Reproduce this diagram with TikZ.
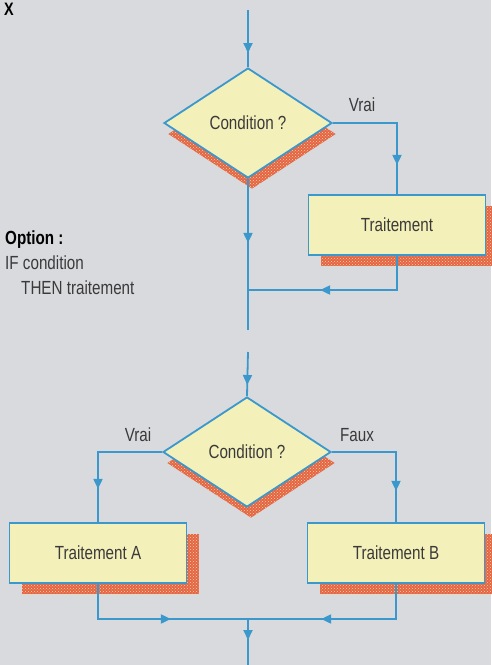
\documentclass[tikz,border=0pt]{standalone}
\usepackage{fontspec}
\setmainfont{Liberation Sans}[FakeStretch=0.8]
\usetikzlibrary{shapes.geometric,arrows.meta,decorations.markings,patterns,shadows}
\definecolor{paper}{HTML}{D9DADE}
\definecolor{flowblue}{HTML}{3A98CC}
\definecolor{boxyellow}{HTML}{F4F0B9}
\definecolor{shadowred}{HTML}{E5634A}
\definecolor{shadowdot}{HTML}{F4DC86}
\definecolor{ink}{HTML}{3A3A3A}
\begin{document}
\begin{tikzpicture}[x=1pt,y=-1pt,>=Triangle,line width=1.8pt,
    font=\fontsize{19}{21}\selectfont,text=ink,
    hatched/.style={general shadow={shadow xshift=#1,shadow yshift=-11pt,fill=shadowred},
        general shadow={shadow xshift=#1,shadow yshift=-11pt,pattern=crosshatch dots,pattern color=shadowdot}},
    test/.style={shape=diamond,draw=flowblue,fill=boxyellow,inner sep=0pt,aspect=1.55,
        minimum width=168pt,minimum height=110pt,hatched=4pt},
    task/.style={shape=rectangle,draw=flowblue,fill=boxyellow,minimum width=177pt,
        minimum height=60pt,hatched=12pt},
    flow/.style={draw=flowblue,postaction={decorate},decoration={markings,
        mark=at position #1 with {\arrow{Triangle[length=10pt,width=9pt]}}}}]
\fill[paper] (0,0) rectangle (491,665);
\useasboundingbox (0,0) rectangle (491,665);
\node[anchor=base west,font=\bfseries\fontsize{18}{20}\selectfont,text=black] (mark) at (0,15) {X};
% IF ... THEN
\coordinate (in1) at (248,10);
\node[test] (cond1) at (248,123) {Condition ?};
\node[task] (trait) at (397,225) {Traitement};
\coordinate (join1) at (248,290);
\coordinate (out1) at (248,330);
\node[anchor=south] (vrai1) at (362,116) {Vrai};
\draw[flow=43pt] (in1) -- (cond1.north);
\draw[flow=106pt] (cond1.east) -| (trait.north);
\draw[flow=64pt] (cond1.south) -- (out1);
\draw[flow=111pt] (trait.south) |- (join1);
\node[anchor=base west,font=\bfseries\fontsize{19}{21}\selectfont,text=black] (opt) at (1,244) {Option :};
\node[anchor=base west] (ifc) at (1,269) {IF condition};
\node[anchor=base west] (thenc) at (17,294) {THEN traitement};
% IF ... THEN ... ELSE
\coordinate (in2) at (248,352);
\node[test] (cond2) at (247,452) {Condition ?};
\node[task] (traitA) at (98,553) {Traitement A};
\node[task] (traitB) at (396,553) {Traitement B};
\coordinate (join2) at (248,619);
\coordinate (out2) at (248,665);
\node[anchor=south] (vrai2) at (138,446) {Vrai};
\node[anchor=south] (faux2) at (357,446) {Faux};
\draw[flow=33pt] (in2) -- (cond2.north);
\draw[flow=101pt] (cond2.west) -| (traitA.north);
\draw[flow=103pt] (cond2.east) -| (traitB.north);
\draw[flow=108pt] (traitA.south) |- (join2);
\draw[flow=110pt] (traitB.south) |- (join2);
\draw[flow=21pt] (join2) -- (out2);
\end{tikzpicture}
\end{document}
